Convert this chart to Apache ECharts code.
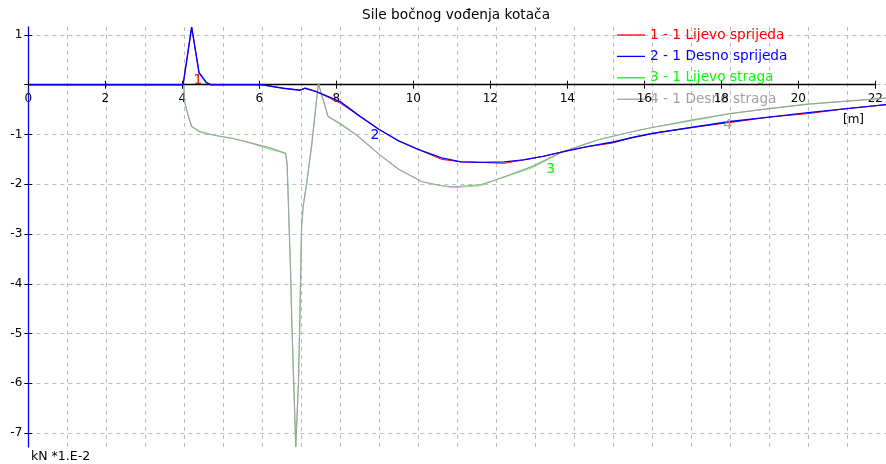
<!DOCTYPE html>
<html>
<head>
<meta charset="utf-8">
<script src="https://cdn.jsdelivr.net/npm/echarts@6/dist/echarts.min.js"></script>
<style>
html,body{margin:0;padding:0;background:#fff;}
#c{width:886px;height:464px;}
</style>
</head>
<body>
<div id="c"></div>
<script>
// ---------- data ----------
const chartTitle = 'Sile bočnog vođenja kotača';
const seriesNames = ['1 - 1 Lijevo sprijeda', '2 - 1 Desno sprijeda', '3 - 1 Lijevo straga', '4 - 1 Desno straga'];
const curveTags = ['1', '2', '3', '4'];
const curveTagAt = [[4.35, 0.09], [8.89, -1.01], [13.4, -1.71], [17.94, -0.81]];

// front wheels (x in m)
const xFront = [0, 3.97, 4.02, 4.19, 4.38, 4.57, 4.68, 6.0, 6.3, 6.54, 6.97, 7.1, 7.39, 8.0, 8.5, 9.0, 9.5, 10.0, 10.6, 11.1, 11.6, 12.2, 12.7, 13.2, 13.7, 14.3, 15.0, 15.5, 16.0, 17.0, 18.0, 19.0, 20.0, 21.0, 22.0];
const yLijevoSprijeda = [0, 0, 0.26, 1.16, 0.24, 0.04, 0, 0, -0.04, -0.07, -0.11, -0.07, -0.14, -0.37, -0.63, -0.9, -1.13, -1.3, -1.5, -1.55, -1.56, -1.58, -1.51, -1.44, -1.35, -1.25, -1.17, -1.06, -0.98, -0.86, -0.76, -0.65, -0.58, -0.48, -0.4];
const yDesnoSprijeda = [0, 0, 0.26, 1.16, 0.24, 0.04, 0, 0, -0.04, -0.07, -0.11, -0.07, -0.14, -0.34, -0.63, -0.9, -1.13, -1.3, -1.47, -1.55, -1.56, -1.55, -1.51, -1.44, -1.35, -1.25, -1.15, -1.06, -0.98, -0.86, -0.74, -0.65, -0.56, -0.48, -0.4];

// rear wheels
const xRear = [0, 3.99, 4.0, 4.1, 4.19, 4.4, 4.8, 5.25, 5.7, 6.2, 6.6, 6.64, 6.69, 6.73, 6.76, 6.8, 6.84, 6.86, 6.93, 6.97, 7.01, 7.05, 7.14, 7.27, 7.44, 7.55, 7.69, 8.0, 8.42, 9.0, 9.5, 10.1, 10.6, 10.9, 11.6, 12.0, 12.9, 13.7, 14.6, 15.4, 16.0, 17.0, 18.0, 19.0, 20.0, 21.0, 22.0];
const yLijevoStraga = [0, 0, -0.31, -0.62, -0.84, -0.96, -1.02, -1.08, -1.17, -1.3, -1.38, -1.6, -2.85, -3.82, -4.79, -5.79, -6.77, -7.28, -5.98, -4.5, -2.85, -2.45, -1.98, -1.21, 0.03, -0.27, -0.64, -0.8, -1.01, -1.4, -1.7, -1.95, -2.03, -2.07, -2.03, -1.91, -1.68, -1.35, -1.11, -0.96, -0.86, -0.73, -0.58, -0.48, -0.39, -0.33, -0.27];
const yDesnoStraga = [0, 0, -0.31, -0.62, -0.84, -0.94, -1.02, -1.08, -1.17, -1.27, -1.38, -1.6, -2.85, -3.82, -4.79, -5.79, -6.77, -7.28, -5.98, -4.5, -2.85, -2.45, -1.98, -1.21, 0.03, -0.27, -0.64, -0.78, -1.01, -1.4, -1.7, -1.95, -2.03, -2.05, -2.01, -1.91, -1.65, -1.35, -1.11, -0.96, -0.86, -0.71, -0.58, -0.48, -0.39, -0.33, -0.27];

// axes
const xMin = 0, xMax = 22;
const yMin = -7.28, yMax = 1.16;
const xLabelTicks = [0, 2, 4, 6, 8, 10, 12, 14, 16, 18, 20, 22];
const yTicks = [-7, -6, -5, -4, -3, -2, -1, 0, 1];
const yLabelTicks = [-7, -6, -5, -4, -3, -2, -1, 1];
const xUnit = '[m]';
const yUnit = 'kN *1.E-2';

// ---------- chart ----------
const FONT = 'DejaVu Sans';
const colors = ['#ff0000', '#0000ff', '#00ff00', '#a0a0a0'];
const widths = [1, 1.4, 0.6, 1.2];
const ys = [yLijevoSprijeda, yDesnoSprijeda, yLijevoStraga, yDesnoStraga];
const xs = [xFront, xFront, xRear, xRear];

// main plot box; the x axis strip ends exactly at y = 0 of the main value axis
const plot = { left: 28.3, right: 0, top: 27, bottom: 17 };
const plotHeight = 464 - plot.top - plot.bottom;
const zeroOffset = plotHeight * (yMax - 0) / (yMax - yMin);

function makeSeries(i) {
  return {
    name: seriesNames[i],
    type: 'line',
    symbol: 'none',
    xAxisIndex: 0,
    yAxisIndex: 0,
    z: 3,
    lineStyle: { color: colors[i], width: widths[i] },
    itemStyle: { color: colors[i] },
    data: xs[i].map((x, k) => [x, ys[i][k]]),
    markPoint: {
      symbol: 'circle',
      symbolSize: 1,
      silent: true,
      itemStyle: { color: 'rgba(0,0,0,0)' },
      label: { show: true, position: 'inside', formatter: curveTags[i], color: colors[i], fontFamily: FONT, fontSize: 14 },
      data: [{ coord: curveTagAt[i] }]
    }
  };
}

const chart = echarts.init(document.getElementById('c'), null, { renderer: 'canvas' });
const option = {
  animation: false,
  backgroundColor: '#ffffff',
  title: {
    text: chartTitle, left: 362, top: 8, padding: 0,
    textStyle: { fontFamily: FONT, fontSize: 13.7, fontWeight: 'normal', color: '#000' }
  },
  legend: {
    orient: 'vertical', left: 617, top: 28, padding: 0,
    icon: 'rect', itemWidth: 28, itemHeight: 1.3, itemGap: 7.4, z: 0,
    textStyle: { fontFamily: FONT, fontSize: 13.7 },
    data: seriesNames.map((n, i) => ({ name: n, textStyle: { color: colors[i] } }))
  },
  grid: [
    { left: plot.left, right: plot.right, top: plot.top, bottom: plot.bottom },
    { left: plot.left, right: plot.right, top: plot.top, height: zeroOffset }
  ],
  xAxis: [
    {
      gridIndex: 0, type: 'value', min: xMin, max: xMax, interval: 1, z: 0,
      axisLine: { show: false, onZero: false }, axisTick: { show: false }, axisLabel: { show: false },
      splitLine: { show: true, lineStyle: { color: '#bdbdbd', type: [4, 4] } }
    },
    {
      gridIndex: 1, type: 'value', min: xMin, max: xMax, position: 'bottom', z: 1,
      axisLine: { show: true, onZero: false, lineStyle: { color: '#000', width: 1.3 } },
      axisTick: { show: true, customValues: xLabelTicks, length: 4, lineStyle: { color: '#000' } },
      axisLabel: { customValues: xLabelTicks, margin: 8, color: '#000', fontFamily: FONT, fontSize: 12 },
      splitLine: { show: false }
    },
    {
      gridIndex: 1, type: 'value', min: xMin, max: xMax, position: 'bottom', z: 1,
      axisLine: { show: false, onZero: false },
      axisTick: { show: true, inside: true, customValues: xLabelTicks, length: 4, lineStyle: { color: '#000' } },
      axisLabel: { show: false }, splitLine: { show: false }
    }
  ],
  yAxis: [
    {
      gridIndex: 0, type: 'value', min: yMin, max: yMax, position: 'left', z: 0,
      axisLine: { show: true, onZero: false, lineStyle: { color: '#0000ff', width: 1.3 } },
      axisTick: { show: true, customValues: yTicks, length: 4, lineStyle: { color: '#000' } },
      axisLabel: { customValues: yLabelTicks, margin: 6, color: '#000', fontFamily: FONT, fontSize: 12 },
      splitLine: { show: true, lineStyle: { color: '#bdbdbd', type: [4, 4] } }
    },
    {
      gridIndex: 0, type: 'value', min: yMin, max: yMax, position: 'left', z: 1,
      axisLine: { show: false, onZero: false },
      axisTick: { show: true, inside: true, customValues: yTicks, length: 4, lineStyle: { color: '#000' } },
      axisLabel: { show: false }, splitLine: { show: false }
    },
    {
      gridIndex: 1, type: 'value', min: 0, max: 1, show: false
    }
  ],
  graphic: [
    { type: 'text', left: 843, top: 114, style: { text: xUnit, fontFamily: FONT, fontSize: 12, fill: '#000' } },
    { type: 'text', left: 31, top: 450, style: { text: yUnit, fontFamily: FONT, fontSize: 12.5, fill: '#000' } }
  ],
  // draw order: rear first, then front on top
  series: [makeSeries(2), makeSeries(3), makeSeries(0), makeSeries(1)]
};
chart.setOption(option);
</script>
</body>
</html>
